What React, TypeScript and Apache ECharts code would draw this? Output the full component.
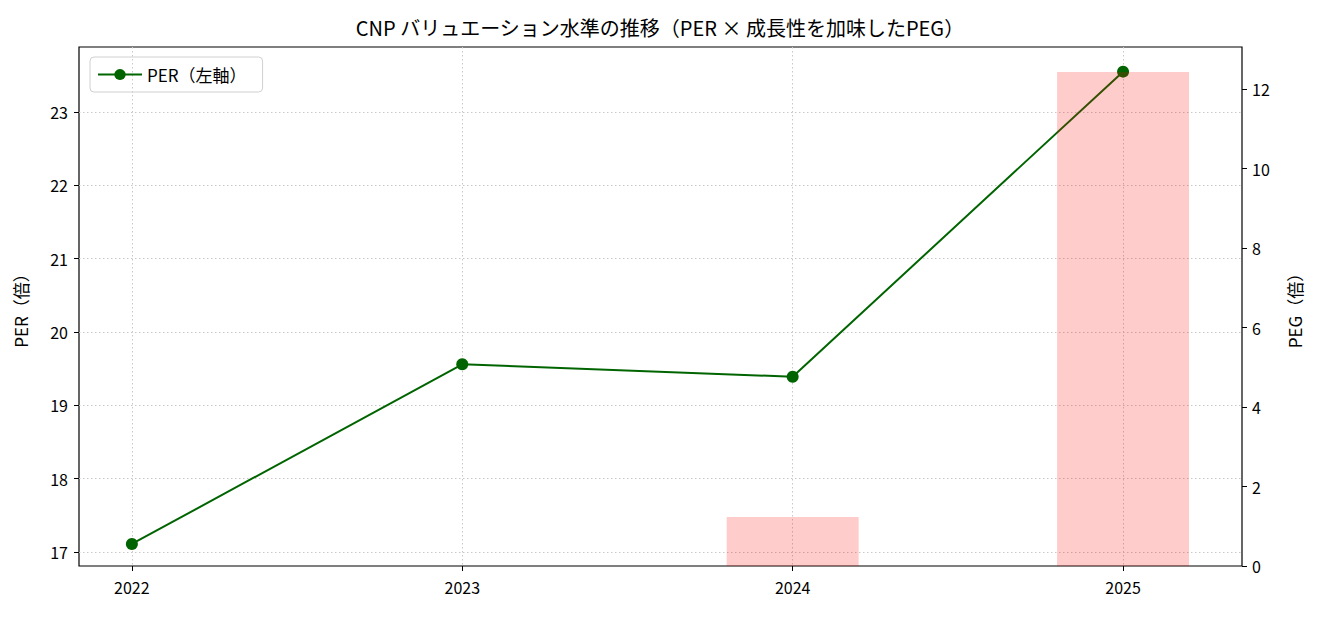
import React, { useEffect, useRef } from "react";
import * as echarts from "echarts";

const years = [2022, 2023, 2024, 2025];
const perValues = [17.11, 19.56, 19.39, 23.55];
const pegYears = [2024, 2025];
const pegValues = [1.23, 12.43];
const perTicks = [17, 18, 19, 20, 21, 22, 23];
const pegTicks = [0, 2, 4, 6, 8, 10, 12];

const FONT = "'Noto Sans CJK JP', sans-serif";

const App: React.FC = () => {
  const chartRef = useRef<HTMLDivElement>(null);

  useEffect(() => {
    if (!chartRef.current) return;
    const chart = echarts.init(chartRef.current, undefined, { renderer: "svg" });

    const tickLabel = { color: "#000", fontSize: 16, fontFamily: FONT };
    const gridLine = { color: "#c8c8c8", type: [1.5, 2.5] as number[], width: 1 };

    const option: echarts.EChartsOption = {
      animation: false,
      backgroundColor: "#fff",
      textStyle: { fontFamily: FONT },
      title: {
        text: "CNP バリュエーション水準の推移（PER × 成長性を加味したPEG）",
        left: "center",
        top: 12,
        textStyle: { fontSize: 20, fontWeight: "normal", color: "#000", fontFamily: FONT },
      },
      legend: {
        data: ["PER（左軸）"],
        left: 90,
        top: 57,
        orient: "vertical",
        borderColor: "#d0d0d0",
        borderWidth: 1,
        borderRadius: 4,
        padding: [9, 16, 9, 7],
        itemWidth: 44,
        itemHeight: 14,
        itemGap: 6,
        textStyle: { fontSize: 17, color: "#000", fontFamily: FONT },
      },
      grid: {
        left: 79,
        right: 78,
        top: 47,
        bottom: 51,
        show: true,
        borderColor: "#000",
        borderWidth: 1.2,
        containLabel: false,
      },
      xAxis: {
        type: "value",
        min: 2021.84,
        max: 2025.36,
        axisLine: { show: false },
        axisTick: {
          show: true,
          length: 5,
          lineStyle: { color: "#000" },
          customValues: years,
        },
        axisLabel: {
          ...tickLabel,
          margin: 13,
          customValues: years,
          formatter: (v: number) => String(v),
        },
        splitLine: { show: true, lineStyle: gridLine },
      },
      yAxis: [
        {
          type: "value",
          min: 16.81,
          max: 23.886,
          name: "PER（倍）",
          nameLocation: "middle",
          nameRotate: 90,
          nameGap: 50,
          nameTextStyle: { fontSize: 17, color: "#000", fontFamily: FONT },
          axisLine: { show: false },
          axisTick: {
            show: true,
            length: 5,
            lineStyle: { color: "#000" },
            customValues: perTicks,
          },
          axisLabel: { ...tickLabel, margin: 11, customValues: perTicks },
          splitLine: { show: true, lineStyle: gridLine },
        },
        {
          type: "value",
          min: 0,
          max: 13.06,
          position: "right",
          name: "PEG（倍）",
          nameLocation: "middle",
          nameRotate: 90,
          nameGap: 44,
          nameTextStyle: { fontSize: 17, color: "#000", fontFamily: FONT },
          axisLine: { show: false },
          axisTick: {
            show: true,
            length: 5,
            lineStyle: { color: "#000" },
            customValues: pegTicks,
          },
          axisLabel: { ...tickLabel, margin: 10, customValues: pegTicks },
          splitLine: { show: false },
        },
      ],
      series: [
        {
          name: "PER（左軸）",
          type: "line",
          yAxisIndex: 0,
          data: years.map((y, i) => [y, perValues[i]]),
          symbol: "circle",
          symbolSize: 12,
          lineStyle: { color: "#006400", width: 2 },
          itemStyle: { color: "#006400" },
          z: 2,
        },
        {
          name: "PEG",
          type: "bar",
          yAxisIndex: 1,
          data: pegYears.map((y, i) => [y, pegValues[i]]),
          barWidth: 132,
          itemStyle: { color: "rgba(255,0,0,0.2)" },
          z: 3,
        },
      ],
    };

    chart.setOption(option);
    return () => {
      chart.dispose();
    };
  }, []);

  return (
    <div
      ref={chartRef}
      style={{ position: "absolute", left: 0, top: 0, width: "1320px", height: "617px" }}
    />
  );
};

export default App;
